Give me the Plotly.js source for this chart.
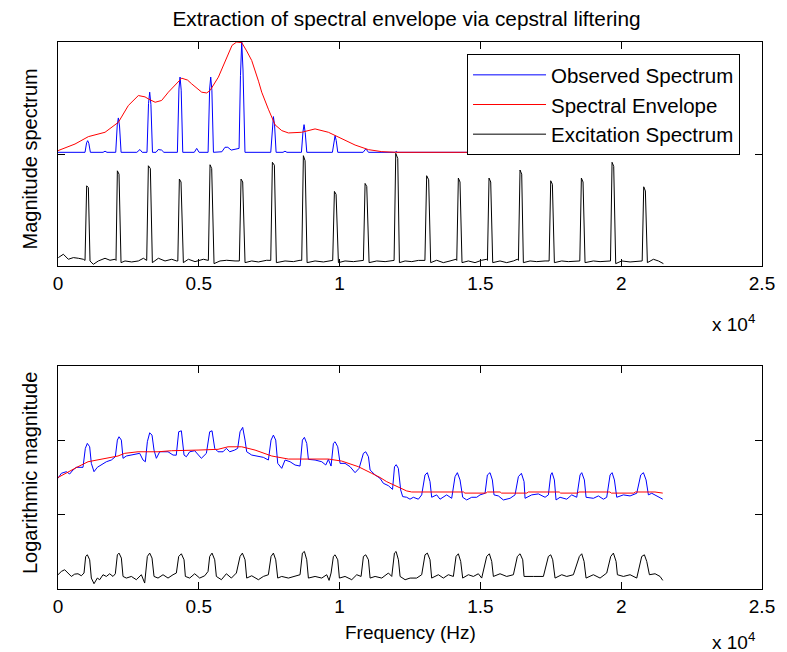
<!DOCTYPE html>
<html>
<head>
<meta charset="utf-8">
<script src="https://cdn.plot.ly/plotly-3.0.1.min.js"></script>
<style>
  html, body { margin: 0; padding: 0; background: #ffffff; }
  #chart { width: 787px; height: 652px; }
</style>
</head>
<body>
<div id="chart"></div>
<script>
// ---- Data (frequency in Hz, value in axis units) ----
const tickVals = [0, 5000, 10000, 15000, 20000, 25000];
const tickText = ['0', '0.5', '1', '1.5', '2', '2.5'];
const seriesNames = ['Observed Spectrum', 'Spectral Envelope', 'Excitation Spectrum'];

// Top panel: magnitude spectrum (observed spectrum and envelope shifted up by 1)
const topObserved = [
  [0,1.015],[960,1.015],[1015,1.10],[1054,1.119],[1095,1.095],[1150,1.015],
  [1600,1.015],[1670,1.025],[1740,1.015],
  [2050,1.015],[2105,1.26],[2143,1.322],[2185,1.25],[2240,1.015],
  [2800,1.015],[2910,1.04],[2990,1.015],
  [3160,1.015],[3215,1.45],[3256,1.552],[3300,1.44],[3355,1.015],
  [3480,1.015],[3560,1.04],[3680,1.035],[3760,1.015],
  [4240,1.015],[4295,1.58],[4334,1.687],[4375,1.57],[4430,1.015],
  [4840,1.015],[4925,1.05],[5010,1.015],
  [5330,1.015],[5385,1.58],[5423,1.687],[5465,1.57],[5520,1.015],
  [5820,1.02],[5930,1.06],[6030,1.06],[6150,1.035],[6300,1.04],
  [6430,1.05],[6480,1.7],[6524,2.0],[6570,1.75],[6640,1.015],
  [7555,1.015],[7610,1.27],[7649,1.334],[7690,1.26],[7745,1.015],
  [7990,1.015],[8060,1.025],[8130,1.015],
  [8645,1.015],[8700,1.2],[8738,1.262],[8780,1.19],[8835,1.015],
  [9745,1.015],[9800,1.13],[9839,1.164],[9880,1.12],[9935,1.015],
  [10835,1.015],[10890,1.04],[10929,1.045],[10970,1.035],[11025,1.015],
  [11970,1.015],[12010,1.025],[12060,1.015],[21500,1.015]
];
const topEnvelope = [
  [0,1.03],[604,1.089],[1078,1.155],[1670,1.194],[2143,1.283],[2498,1.433],
  [2854,1.522],[3090,1.51],[3209,1.492],[3450,1.462],[3680,1.478],[3919,1.552],
  [4393,1.677],[4600,1.66],[4748,1.626],[5103,1.552],[5280,1.545],[5399,1.567],
  [5695,1.686],[5930,1.82],[6050,1.895],[6180,1.97],[6346,2.0],[6524,1.995],
  [6700,1.92],[6879,1.835],[7120,1.65],[7234,1.552],[7470,1.40],[7590,1.328],
  [7710,1.26],[7945,1.209],[8182,1.188],[8655,1.194],[9129,1.224],[9602,1.194],
  [10076,1.134],[10550,1.080],[11023,1.039],[11497,1.021],[12000,1.015],[21500,1.015]
];
const topExcitation = [
  [12,0.075],[190,0.105],[367,0.060],[545,0.075],[722,0.069],[900,0.060],
  [960,0.05],[1018,0.716],[1078,0.70],[1137,0.045],[1255,0.015],[1433,0.045],[1670,0.069],[1847,0.051],[2025,0.060],
  [2060,0.05],[2108,0.85],[2167,0.82],[2238,0.030],[2380,0.045],[2617,0.036],[2854,0.045],[3032,0.069],
  [3150,0.05],[3209,0.895],[3280,0.87],[3351,0.030],[3564,0.069],[3801,0.045],[4038,0.060],[4215,0.045],
  [4255,0.045],[4310,0.776],[4369,0.75],[4452,0.030],[4630,0.060],[4866,0.039],[5162,0.060],
  [5340,0.05],[5399,0.904],[5458,0.87],[5541,0.021],[5754,0.045],[5991,0.051],[6287,0.045],
  [6440,0.045],[6500,0.776],[6559,0.75],[6642,0.030],[6879,0.045],[7116,0.036],[7412,0.051],
  [7555,0.05],[7613,0.926],[7684,0.90],[7755,0.030],[8063,0.045],[8359,0.039],[8596,0.051],
  [8655,0.05],[8714,0.985],[8774,0.94],[8845,0.030],[9129,0.045],[9425,0.036],[9697,0.051],
  [9755,0.05],[9816,0.666],[9875,0.64],[9958,0.030],[10194,0.045],[10490,0.039],[10786,0.051],
  [10845,0.05],[10905,0.737],[10964,0.71],[11047,0.030],[11319,0.045],[11616,0.039],[11911,0.051],
  [11935,0.05],[11994,1.006],[12065,0.96],[12124,0.030],[12326,0.045],[12563,0.039],[12800,0.05],
  [13030,0.05],[13092,0.806],[13163,0.77],[13234,0.030],[13447,0.051],[13684,0.030],[13921,0.045],[14134,0.060],
  [14160,0.05],[14217,0.785],[14276,0.75],[14347,0.030],[14572,0.045],[14809,0.030],[15046,0.051],[15223,0.060],
  [15250,0.05],[15306,0.785],[15366,0.75],[15437,0.030],[15697,0.045],[15934,0.030],[16171,0.045],[16313,0.060],
  [16350,0.05],[16407,0.857],[16467,0.82],[16526,0.030],[16763,0.045],[17000,0.039],[17296,0.045],
  [17440,0.045],[17497,0.761],[17556,0.73],[17627,0.030],[17887,0.045],[18124,0.039],[18420,0.045],
  [18530,0.045],[18586,0.785],[18645,0.75],[18716,0.030],[19012,0.045],[19249,0.039],[19545,0.045],
  [19620,0.045],[19675,0.926],[19734,0.89],[19805,0.021],[20018,0.045],[20315,0.036],[20611,0.045],
  [20745,0.045],[20800,0.707],[20859,0.67],[20930,0.030],[21144,0.060],[21321,0.045],[21499,0.021]
];

// Bottom panel: logarithmic magnitude
const logObserved = [
  [0,1.489],[118,1.556],[296,1.578],[414,1.547],[533,1.601],[651,1.637],[888,1.637],
  [971,1.892],[1042,1.959],[1125,1.913],[1184,1.690],[1279,1.578],[1397,1.637],[1539,1.668],
  [1717,1.712],[1894,1.735],[2036,1.779],[2108,2.003],[2167,2.048],[2250,2.003],[2309,1.758],
  [2427,1.789],[2664,1.802],[2901,1.825],[3019,1.735],[3102,1.712],[3173,1.981],[3256,2.101],
  [3339,2.070],[3410,1.869],[3493,1.758],[3611,1.846],[3907,1.846],[4085,1.802],[4200,1.80],
  [4286,2.115],[4381,2.128],[4476,1.802],[4558,1.779],[4677,1.846],[4854,1.860],[4973,1.802],
  [5091,1.758],[5269,1.825],[5387,2.115],[5470,2.128],[5565,1.892],[5683,1.846],[5861,1.846],
  [5979,1.892],[6098,1.846],[6275,1.869],[6380,1.892],[6465,2.115],[6559,2.174],[6642,2.003],
  [6701,1.846],[6879,1.802],[7116,1.779],[7293,1.771],[7471,1.735],[7566,2.003],[7649,2.070],
  [7732,2.003],[7803,1.690],[7945,1.623],[8063,1.735],[8241,1.712],[8418,1.668],[8596,1.654],
  [8679,2.003],[8750,2.040],[8833,1.959],[8892,1.744],[9129,1.735],[9366,1.712],[9508,1.668],
  [9602,1.744],[9697,1.654],[9780,1.959],[9839,1.981],[9934,1.913],[10017,1.690],[10194,1.690],
  [10372,1.645],[10550,1.565],[10692,1.623],[10846,1.825],[10929,1.846],[11024,1.779],[11083,1.601],
  [11260,1.534],[11437,1.489],[11553,1.422],[11731,1.390],[11880,1.34],[11950,1.645],[12010,1.672],
  [12086,1.623],[12169,1.332],[12240,1.243],[12382,1.234],[12500,1.208],[12619,1.234],[12797,1.208],
  [12915,1.266],[13033,1.534],[13117,1.565],[13211,1.444],[13270,1.234],[13448,1.266],[13566,1.208],
  [13803,1.266],[13981,1.22],[14099,1.511],[14182,1.565],[14277,1.467],[14371,1.234],[14513,1.198],
  [14691,1.234],[14869,1.234],[14987,1.266],[15165,1.288],[15248,1.534],[15342,1.565],[15425,1.467],
  [15484,1.266],[15638,1.252],[15816,1.198],[16053,1.22],[16230,1.266],[16349,1.511],[16456,1.556],
  [16550,1.444],[16586,1.22],[16822,1.266],[17059,1.279],[17296,1.234],[17414,1.266],[17497,1.534],
  [17545,1.565],[17627,1.467],[17686,1.198],[17829,1.234],[18066,1.208],[18243,1.266],[18421,1.234],
  [18539,1.534],[18598,1.565],[18693,1.467],[18752,1.234],[19012,1.22],[19190,1.252],[19368,1.208],
  [19486,1.234],[19605,1.534],[19676,1.565],[19759,1.467],[19842,1.234],[20078,1.266],[20315,1.252],
  [20552,1.288],[20694,1.534],[20789,1.565],[20883,1.467],[20966,1.266],[21085,1.288],[21263,1.252],
  [21476,1.208]
];
const logEnvelope = [
  [0,1.50],[355,1.578],[710,1.645],[1066,1.712],[1421,1.735],[1776,1.758],[2131,1.789],
  [2368,1.825],[2842,1.846],[3552,1.846],[4026,1.860],[4973,1.869],[5683,1.879],[6038,1.913],
  [6524,1.913],[6998,1.869],[7590,1.789],[8182,1.748],[8892,1.748],[9602,1.748],[10076,1.721],
  [10668,1.645],[11141,1.556],[11437,1.50],[11672,1.444],[11909,1.400],[12145,1.355],[12382,1.319],
  [12560,1.305],[14400,1.305],[14450,1.29],[15200,1.29],[15250,1.305],[15700,1.305],[15750,1.29],
  [16650,1.29],[16700,1.305],[17800,1.305],[17850,1.29],[18450,1.29],[18500,1.305],[19600,1.305],
  [19650,1.29],[20450,1.29],[20500,1.305],[21200,1.305],[21476,1.29]
];
const logExcitation = [
  [0,0.192],[118,0.236],[237,0.259],[355,0.215],[474,0.169],[592,0.200],[710,0.205],[829,0.178],
  [924,0.215],[983,0.438],[1042,0.460],[1125,0.393],[1184,0.147],[1279,0.071],[1397,0.147],
  [1480,0.125],[1598,0.192],[1717,0.169],[1835,0.205],[1954,0.169],[2036,0.205],[2108,0.460],
  [2167,0.483],[2250,0.416],[2309,0.169],[2427,0.147],[2605,0.169],[2782,0.125],[2960,0.192],
  [3078,0.080],[3173,0.438],[3256,0.483],[3339,0.416],[3410,0.169],[3552,0.147],[3730,0.192],
  [3907,0.147],[4085,0.192],[4203,0.215],[4286,0.438],[4381,0.474],[4476,0.393],[4523,0.169],
  [4677,0.147],[4854,0.205],[5032,0.147],[5210,0.178],[5328,0.236],[5387,0.438],[5470,0.483],
  [5565,0.393],[5624,0.169],[5802,0.125],[5979,0.205],[6157,0.147],[6334,0.215],[6465,0.438],
  [6548,0.483],[6642,0.393],[6701,0.147],[6879,0.178],[7116,0.125],[7293,0.169],[7471,0.192],
  [7566,0.438],[7649,0.483],[7732,0.393],[7803,0.147],[7945,0.169],[8182,0.147],[8418,0.178],
  [8596,0.192],[8679,0.483],[8750,0.505],[8833,0.393],[8892,0.147],[9129,0.169],[9366,0.147],
  [9543,0.192],[9626,0.116],[9697,0.215],[9780,0.438],[9839,0.460],[9934,0.393],[9993,0.147],
  [10194,0.169],[10431,0.125],[10609,0.192],[10763,0.169],[10846,0.438],[10929,0.460],[11024,0.393],
  [11083,0.147],[11260,0.169],[11497,0.147],[11734,0.215],[11852,0.169],[11947,0.483],[12006,0.505],
  [12089,0.393],[12148,0.169],[12326,0.125],[12504,0.147],[12737,0.147],[12915,0.192],[13033,0.460],
  [13117,0.483],[13211,0.393],[13270,0.147],[13507,0.192],[13685,0.147],[13862,0.192],[14040,0.169],
  [14135,0.438],[14217,0.474],[14300,0.371],[14371,0.147],[14573,0.192],[14750,0.169],[14928,0.205],
  [15046,0.147],[15224,0.438],[15318,0.474],[15402,0.371],[15461,0.169],[15697,0.205],[15934,0.169],
  [16171,0.192],[16313,0.438],[16408,0.474],[16503,0.393],[16550,0.169],[16882,0.169],[17237,0.169],
  [17414,0.438],[17497,0.460],[17568,0.393],[17651,0.147],[17888,0.192],[18066,0.169],[18302,0.192],
  [18515,0.438],[18598,0.474],[18681,0.371],[18752,0.147],[19012,0.192],[19249,0.147],[19486,0.215],
  [19628,0.438],[19723,0.483],[19818,0.371],[19865,0.192],[20078,0.169],[20315,0.192],[20552,0.147],
  [20729,0.438],[20824,0.460],[20907,0.371],[21002,0.192],[21203,0.205],[21380,0.169],[21476,0.116]
];

// ---- Build traces ----
const xs = a => a.map(p => p[0]);
const ys = a => a.map(p => p[1]);
const FONT = 'Liberation Sans, Arial, Helvetica, sans-serif';

const traces = [
  {x: xs(topObserved), y: ys(topObserved), xaxis: 'x', yaxis: 'y', mode: 'lines',
   name: seriesNames[0], line: {color: '#0000ff', width: 1}},
  {x: xs(topEnvelope), y: ys(topEnvelope), xaxis: 'x', yaxis: 'y', mode: 'lines',
   name: seriesNames[1], line: {color: '#ff0000', width: 1}},
  {x: xs(topExcitation), y: ys(topExcitation), xaxis: 'x', yaxis: 'y', mode: 'lines',
   name: seriesNames[2], line: {color: '#000000', width: 1}},
  {x: xs(logObserved), y: ys(logObserved), xaxis: 'x2', yaxis: 'y2', mode: 'lines',
   name: seriesNames[0], showlegend: false, line: {color: '#0000ff', width: 1}},
  {x: xs(logEnvelope), y: ys(logEnvelope), xaxis: 'x2', yaxis: 'y2', mode: 'lines',
   name: seriesNames[1], showlegend: false, line: {color: '#ff0000', width: 1}},
  {x: xs(logExcitation), y: ys(logExcitation), xaxis: 'x2', yaxis: 'y2', mode: 'lines',
   name: seriesNames[2], showlegend: false, line: {color: '#000000', width: 1}}
];

const xCommon = {
  range: [0, 25000], tickmode: 'array', tickvals: tickVals, ticktext: tickText,
  ticks: 'inside', ticklen: 7, tickcolor: '#000', tickwidth: 1,
  showline: true, linecolor: '#000', linewidth: 1, mirror: 'ticks',
  showgrid: false, zeroline: false, fixedrange: true,
  tickfont: {family: FONT, size: 19, color: '#000'}, ticklabelstandoff: 0
};
const yCommon = {
  ticks: 'inside', ticklen: 7, tickcolor: '#000', tickwidth: 1,
  showline: true, linecolor: '#000', linewidth: 1, mirror: 'ticks',
  showgrid: false, zeroline: false, showticklabels: false, fixedrange: true
};

const layout = {
  width: 787, height: 652,
  paper_bgcolor: '#ffffff', plot_bgcolor: '#ffffff',
  margin: {l: 58, r: 25, t: 42, b: 63, pad: 0},
  font: {family: FONT, color: '#000'},
  title: {text: 'Extraction of spectral envelope via cepstral liftering',
          font: {family: FONT, size: 20.8, color: '#000'},
          xref: 'paper', x: 0.495, xanchor: 'center', yref: 'container', y: 0.972, yanchor: 'middle'},
  xaxis: Object.assign({}, xCommon, {anchor: 'y', domain: [0, 1]}),
  yaxis: Object.assign({}, yCommon, {anchor: 'x', domain: [0.5905, 1], range: [0, 2], tickvals: [0, 1, 2]}),
  xaxis2: Object.assign({}, xCommon, {anchor: 'y2', domain: [0, 1]}),
  yaxis2: Object.assign({}, yCommon, {anchor: 'x2', domain: [0, 0.4077], range: [0, 3], tickvals: [0, 1, 2, 3]}),
  showlegend: true,
  legend: {x: 0.581, y: 0.978, xref: 'paper', yref: 'paper', xanchor: 'left', yanchor: 'top',
           bgcolor: '#ffffff', bordercolor: '#000', borderwidth: 1,
           font: {family: FONT, size: 20.5, color: '#000'},
           tracegroupgap: 0, itemwidth: 73},
  annotations: [
    {text: 'Magnitude spectrum', textangle: -90, xref: 'paper', yref: 'paper',
     x: -0.0398, y: 0.787, xanchor: 'center', yanchor: 'middle', showarrow: false,
     font: {family: FONT, size: 20, color: '#000'}},
    {text: 'Logarithmic magnitude', textangle: -90, xref: 'paper', yref: 'paper',
     x: -0.0398, y: 0.212, xanchor: 'center', yanchor: 'middle', showarrow: false,
     font: {family: FONT, size: 20, color: '#000'}},
    {text: 'Frequency (Hz)', xref: 'paper', yref: 'paper', x: 0.5, y: -0.08,
     xanchor: 'center', yanchor: 'middle', showarrow: false,
     font: {family: FONT, size: 19, color: '#000'}},
    {text: 'x 10<sup>4</sup>', xref: 'paper', yref: 'paper', x: 0.993, y: 0.486,
     xanchor: 'right', yanchor: 'middle', showarrow: false,
     font: {family: FONT, size: 19, color: '#000'}},
    {text: 'x 10<sup>4</sup>', xref: 'paper', yref: 'paper', x: 0.993, y: -0.095,
     xanchor: 'right', yanchor: 'middle', showarrow: false,
     font: {family: FONT, size: 19, color: '#000'}}
  ]
};

Plotly.newPlot('chart', traces, layout, {displayModeBar: false, staticPlot: true});
</script>
</body>
</html>
